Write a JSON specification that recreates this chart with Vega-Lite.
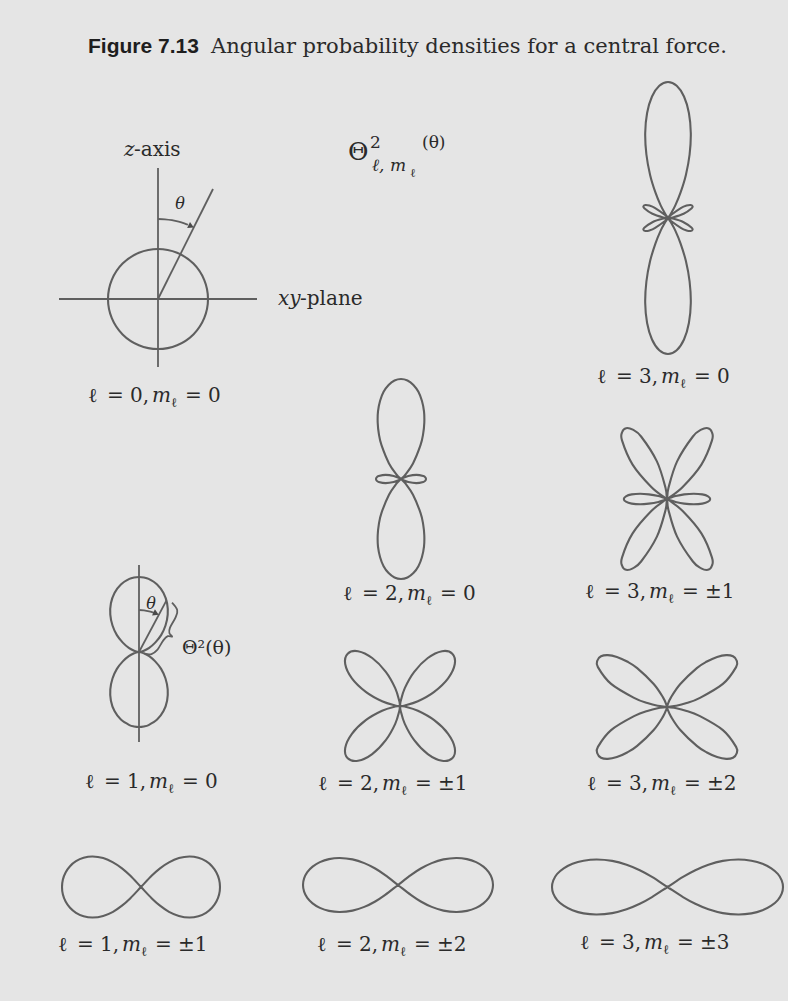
{
  "$schema": "https://vega.github.io/schema/vega-lite/v6.json",
  "width": 788,
  "height": 1001,
  "padding": 0,
  "autosize": {"type": "none"},
  "background": "#e5e5e5",
  "config": {"view": {"stroke": null}},
  "datasets": {
    "curves": [
      {"s":"l0m0","i":0,"x":158,"y":249},{"s":"l0m0","i":1,"x":177.1,"y":252.8},{"s":"l0m0","i":2,"x":193.4,"y":263.6},{"s":"l0m0","i":3,"x":204.2,"y":279.9},{"s":"l0m0","i":4,"x":208,"y":299},{"s":"l0m0","i":5,"x":204.2,"y":318.1},{"s":"l0m0","i":6,"x":193.4,"y":334.4},{"s":"l0m0","i":7,"x":177.1,"y":345.2},{"s":"l0m0","i":8,"x":158,"y":349},{"s":"l0m0","i":9,"x":138.9,"y":345.2},{"s":"l0m0","i":10,"x":122.6,"y":334.4},{"s":"l0m0","i":11,"x":111.8,"y":318.1},{"s":"l0m0","i":12,"x":108,"y":299},{"s":"l0m0","i":13,"x":111.8,"y":279.9},{"s":"l0m0","i":14,"x":122.6,"y":263.6},{"s":"l0m0","i":15,"x":138.9,"y":252.8},

      {"s":"l1m0","i":0,"x":139,"y":577},{"s":"l1m0","i":1,"x":143.9,"y":577.5},{"s":"l1m0","i":2,"x":148.6,"y":578.9},{"s":"l1m0","i":3,"x":157.1,"y":584.4},{"s":"l1m0","i":4,"x":163.5,"y":592.9},{"s":"l1m0","i":5,"x":167.1,"y":603.3},{"s":"l1m0","i":6,"x":167.7,"y":614.6},{"s":"l1m0","i":7,"x":165.5,"y":625.5},{"s":"l1m0","i":8,"x":161.1,"y":635.1},{"s":"l1m0","i":9,"x":155.2,"y":642.6},{"s":"l1m0","i":10,"x":149.2,"y":647.8},{"s":"l1m0","i":11,"x":143.9,"y":650.7},{"s":"l1m0","i":12,"x":140.3,"y":651.8},{"s":"l1m0","i":13,"x":139,"y":652},
      {"s":"l1m0","i":14,"x":140.3,"y":652.2},{"s":"l1m0","i":15,"x":143.9,"y":653.3},{"s":"l1m0","i":16,"x":149.2,"y":656.2},{"s":"l1m0","i":17,"x":155.2,"y":661.4},{"s":"l1m0","i":18,"x":161.1,"y":668.9},{"s":"l1m0","i":19,"x":165.5,"y":678.5},{"s":"l1m0","i":20,"x":167.7,"y":689.5},{"s":"l1m0","i":21,"x":167.1,"y":700.7},{"s":"l1m0","i":22,"x":163.5,"y":711.1},{"s":"l1m0","i":23,"x":157.1,"y":719.6},{"s":"l1m0","i":24,"x":148.6,"y":725.1},{"s":"l1m0","i":25,"x":143.9,"y":726.5},{"s":"l1m0","i":26,"x":139,"y":727},
      {"s":"l1m0","i":27,"x":134.1,"y":726.5},{"s":"l1m0","i":28,"x":129.4,"y":725.1},{"s":"l1m0","i":29,"x":120.9,"y":719.6},{"s":"l1m0","i":30,"x":114.5,"y":711.1},{"s":"l1m0","i":31,"x":110.9,"y":700.7},{"s":"l1m0","i":32,"x":110.3,"y":689.5},{"s":"l1m0","i":33,"x":112.5,"y":678.5},{"s":"l1m0","i":34,"x":116.9,"y":668.9},{"s":"l1m0","i":35,"x":122.8,"y":661.4},{"s":"l1m0","i":36,"x":128.8,"y":656.2},{"s":"l1m0","i":37,"x":134.1,"y":653.3},{"s":"l1m0","i":38,"x":137.7,"y":652.2},{"s":"l1m0","i":39,"x":139,"y":652},
      {"s":"l1m0","i":40,"x":137.7,"y":651.8},{"s":"l1m0","i":41,"x":134.1,"y":650.7},{"s":"l1m0","i":42,"x":128.8,"y":647.8},{"s":"l1m0","i":43,"x":122.8,"y":642.6},{"s":"l1m0","i":44,"x":116.9,"y":635.1},{"s":"l1m0","i":45,"x":112.5,"y":625.5},{"s":"l1m0","i":46,"x":110.3,"y":614.6},{"s":"l1m0","i":47,"x":110.9,"y":603.3},{"s":"l1m0","i":48,"x":114.5,"y":592.9},{"s":"l1m0","i":49,"x":120.9,"y":584.4},{"s":"l1m0","i":50,"x":129.4,"y":578.9},{"s":"l1m0","i":51,"x":134.1,"y":577.5},

      {"s":"l1m1","i":0,"x":141,"y":887},{"s":"l1m1","i":1,"x":151.6,"y":875.8},{"s":"l1m1","i":2,"x":160,"y":868.3},{"s":"l1m1","i":3,"x":169,"y":862.3},{"s":"l1m1","i":4,"x":178.9,"y":858.1},{"s":"l1m1","i":5,"x":189.4,"y":856.5},{"s":"l1m1","i":6,"x":198.4,"y":857.8},{"s":"l1m1","i":7,"x":206,"y":861.2},{"s":"l1m1","i":8,"x":212,"y":866.2},{"s":"l1m1","i":9,"x":216.4,"y":872.5},{"s":"l1m1","i":10,"x":219.1,"y":879.5},{"s":"l1m1","i":11,"x":220,"y":887},
      {"s":"l1m1","i":12,"x":219.1,"y":894.5},{"s":"l1m1","i":13,"x":216.4,"y":901.5},{"s":"l1m1","i":14,"x":212,"y":907.8},{"s":"l1m1","i":15,"x":206,"y":912.8},{"s":"l1m1","i":16,"x":198.4,"y":916.2},{"s":"l1m1","i":17,"x":189.4,"y":917.5},{"s":"l1m1","i":18,"x":178.9,"y":915.9},{"s":"l1m1","i":19,"x":169,"y":911.8},{"s":"l1m1","i":20,"x":160,"y":905.7},{"s":"l1m1","i":21,"x":151.6,"y":898.2},{"s":"l1m1","i":22,"x":141,"y":887},
      {"s":"l1m1","i":23,"x":130.4,"y":875.8},{"s":"l1m1","i":24,"x":122,"y":868.3},{"s":"l1m1","i":25,"x":113,"y":862.3},{"s":"l1m1","i":26,"x":103.2,"y":858.1},{"s":"l1m1","i":27,"x":92.6,"y":856.5},{"s":"l1m1","i":28,"x":83.6,"y":857.8},{"s":"l1m1","i":29,"x":76,"y":861.2},{"s":"l1m1","i":30,"x":70,"y":866.2},{"s":"l1m1","i":31,"x":65.6,"y":872.5},{"s":"l1m1","i":32,"x":62.9,"y":879.5},{"s":"l1m1","i":33,"x":62,"y":887},
      {"s":"l1m1","i":34,"x":62.9,"y":894.5},{"s":"l1m1","i":35,"x":65.6,"y":901.5},{"s":"l1m1","i":36,"x":70,"y":907.8},{"s":"l1m1","i":37,"x":76,"y":912.8},{"s":"l1m1","i":38,"x":83.6,"y":916.2},{"s":"l1m1","i":39,"x":92.6,"y":917.5},{"s":"l1m1","i":40,"x":103.2,"y":915.9},{"s":"l1m1","i":41,"x":113,"y":911.8},{"s":"l1m1","i":42,"x":122,"y":905.7},{"s":"l1m1","i":43,"x":130.4,"y":898.2},

      {"s":"l2m0","i":0,"x":401,"y":379},{"s":"l2m0","i":1,"x":407.5,"y":380.5},{"s":"l2m0","i":2,"x":413.4,"y":384.9},{"s":"l2m0","i":3,"x":418.4,"y":391.8},{"s":"l2m0","i":4,"x":421.9,"y":400.8},{"s":"l2m0","i":5,"x":424,"y":411.4},{"s":"l2m0","i":6,"x":424.3,"y":422.7},{"s":"l2m0","i":7,"x":423.1,"y":434.2},{"s":"l2m0","i":8,"x":420.5,"y":445.2},{"s":"l2m0","i":9,"x":413,"y":463.4},{"s":"l2m0","i":10,"x":405.4,"y":474.6},{"s":"l2m0","i":11,"x":401.3,"y":478.8},{"s":"l2m0","i":12,"x":402.4,"y":478.2},{"s":"l2m0","i":13,"x":408.3,"y":476},{"s":"l2m0","i":14,"x":416.4,"y":474.9},{"s":"l2m0","i":15,"x":423.3,"y":476.1},{"s":"l2m0","i":16,"x":425.3,"y":477.4},{"s":"l2m0","i":17,"x":426,"y":479},
      {"s":"l2m0","i":18,"x":425.3,"y":480.6},{"s":"l2m0","i":19,"x":423.3,"y":481.9},{"s":"l2m0","i":20,"x":416.4,"y":483.1},{"s":"l2m0","i":21,"x":408.3,"y":482},{"s":"l2m0","i":22,"x":402.4,"y":479.8},{"s":"l2m0","i":23,"x":401.3,"y":479.2},{"s":"l2m0","i":24,"x":405.4,"y":483.4},{"s":"l2m0","i":25,"x":413,"y":494.7},{"s":"l2m0","i":26,"x":420.5,"y":512.8},{"s":"l2m0","i":27,"x":423.1,"y":523.8},{"s":"l2m0","i":28,"x":424.3,"y":535.3},{"s":"l2m0","i":29,"x":424,"y":546.6},{"s":"l2m0","i":30,"x":421.9,"y":557.2},{"s":"l2m0","i":31,"x":418.4,"y":566.2},{"s":"l2m0","i":32,"x":413.4,"y":573.1},{"s":"l2m0","i":33,"x":407.5,"y":577.5},{"s":"l2m0","i":34,"x":401,"y":579},
      {"s":"l2m0","i":35,"x":394.5,"y":577.5},{"s":"l2m0","i":36,"x":388.6,"y":573.1},{"s":"l2m0","i":37,"x":383.6,"y":566.2},{"s":"l2m0","i":38,"x":380.1,"y":557.2},{"s":"l2m0","i":39,"x":378,"y":546.6},{"s":"l2m0","i":40,"x":377.7,"y":535.3},{"s":"l2m0","i":41,"x":378.9,"y":523.8},{"s":"l2m0","i":42,"x":381.5,"y":512.8},{"s":"l2m0","i":43,"x":389,"y":494.7},{"s":"l2m0","i":44,"x":396.6,"y":483.4},{"s":"l2m0","i":45,"x":400.7,"y":479.2},{"s":"l2m0","i":46,"x":399.6,"y":479.8},{"s":"l2m0","i":47,"x":393.7,"y":482},{"s":"l2m0","i":48,"x":385.6,"y":483.1},{"s":"l2m0","i":49,"x":378.7,"y":481.9},{"s":"l2m0","i":50,"x":376.7,"y":480.6},{"s":"l2m0","i":51,"x":376,"y":479},
      {"s":"l2m0","i":52,"x":376.7,"y":477.4},{"s":"l2m0","i":53,"x":378.7,"y":476.1},{"s":"l2m0","i":54,"x":385.6,"y":474.9},{"s":"l2m0","i":55,"x":393.7,"y":476},{"s":"l2m0","i":56,"x":399.6,"y":478.2},{"s":"l2m0","i":57,"x":400.7,"y":478.8},{"s":"l2m0","i":58,"x":396.6,"y":474.6},{"s":"l2m0","i":59,"x":389,"y":463.4},{"s":"l2m0","i":60,"x":381.5,"y":445.2},{"s":"l2m0","i":61,"x":378.9,"y":434.2},{"s":"l2m0","i":62,"x":377.7,"y":422.7},{"s":"l2m0","i":63,"x":378,"y":411.4},{"s":"l2m0","i":64,"x":380.1,"y":400.8},{"s":"l2m0","i":65,"x":383.6,"y":391.8},{"s":"l2m0","i":66,"x":388.6,"y":384.9},{"s":"l2m0","i":67,"x":394.5,"y":380.5},

      {"s":"l2m1","i":0,"x":400,"y":706},{"s":"l2m1","i":1,"x":400.7,"y":701.1},{"s":"l2m1","i":2,"x":404.8,"y":688.1},{"s":"l2m1","i":3,"x":414.2,"y":671.8},{"s":"l2m1","i":4,"x":427.8,"y":658},{"s":"l2m1","i":5,"x":442,"y":651.2},{"s":"l2m1","i":6,"x":452.3,"y":653.7},{"s":"l2m1","i":7,"x":454.8,"y":664},{"s":"l2m1","i":8,"x":448.1,"y":678.3},{"s":"l2m1","i":9,"x":434.2,"y":691.8},{"s":"l2m1","i":10,"x":417.9,"y":701.2},{"s":"l2m1","i":11,"x":404.9,"y":705.4},{"s":"l2m1","i":12,"x":400,"y":706},
      {"s":"l2m1","i":13,"x":404.9,"y":706.6},{"s":"l2m1","i":14,"x":417.9,"y":710.8},{"s":"l2m1","i":15,"x":434.2,"y":720.2},{"s":"l2m1","i":16,"x":448.1,"y":733.8},{"s":"l2m1","i":17,"x":454.8,"y":748},{"s":"l2m1","i":18,"x":452.3,"y":758.3},{"s":"l2m1","i":19,"x":442,"y":760.8},{"s":"l2m1","i":20,"x":427.8,"y":754.1},{"s":"l2m1","i":21,"x":414.2,"y":740.2},{"s":"l2m1","i":22,"x":404.8,"y":723.9},{"s":"l2m1","i":23,"x":400.7,"y":710.9},{"s":"l2m1","i":24,"x":400,"y":706},
      {"s":"l2m1","i":25,"x":399.3,"y":710.9},{"s":"l2m1","i":26,"x":395.2,"y":723.9},{"s":"l2m1","i":27,"x":385.8,"y":740.2},{"s":"l2m1","i":28,"x":372.2,"y":754.1},{"s":"l2m1","i":29,"x":358,"y":760.8},{"s":"l2m1","i":30,"x":347.7,"y":758.3},{"s":"l2m1","i":31,"x":345.2,"y":748},{"s":"l2m1","i":32,"x":351.9,"y":733.8},{"s":"l2m1","i":33,"x":365.8,"y":720.2},{"s":"l2m1","i":34,"x":382.1,"y":710.8},{"s":"l2m1","i":35,"x":395.1,"y":706.6},{"s":"l2m1","i":36,"x":400,"y":706},
      {"s":"l2m1","i":37,"x":395.1,"y":705.4},{"s":"l2m1","i":38,"x":382.1,"y":701.2},{"s":"l2m1","i":39,"x":365.8,"y":691.8},{"s":"l2m1","i":40,"x":351.9,"y":678.3},{"s":"l2m1","i":41,"x":345.2,"y":664},{"s":"l2m1","i":42,"x":347.7,"y":653.7},{"s":"l2m1","i":43,"x":358,"y":651.2},{"s":"l2m1","i":44,"x":372.2,"y":658},{"s":"l2m1","i":45,"x":385.8,"y":671.8},{"s":"l2m1","i":46,"x":395.2,"y":688.1},{"s":"l2m1","i":47,"x":399.3,"y":701.1},

      {"s":"l2m2","i":0,"x":398,"y":885},{"s":"l2m2","i":1,"x":410.8,"y":875.1},{"s":"l2m2","i":2,"x":420.8,"y":868.5},{"s":"l2m2","i":3,"x":431.7,"y":863.1},{"s":"l2m2","i":4,"x":443.5,"y":859.4},{"s":"l2m2","i":5,"x":456.2,"y":858},{"s":"l2m2","i":6,"x":467,"y":859.1},{"s":"l2m2","i":7,"x":476.1,"y":862.1},{"s":"l2m2","i":8,"x":483.4,"y":866.6},{"s":"l2m2","i":9,"x":488.7,"y":872.1},{"s":"l2m2","i":10,"x":491.9,"y":878.4},{"s":"l2m2","i":11,"x":493,"y":885},
      {"s":"l2m2","i":12,"x":491.9,"y":891.6},{"s":"l2m2","i":13,"x":488.7,"y":897.9},{"s":"l2m2","i":14,"x":483.4,"y":903.4},{"s":"l2m2","i":15,"x":476.1,"y":907.9},{"s":"l2m2","i":16,"x":467,"y":910.9},{"s":"l2m2","i":17,"x":456.2,"y":912},{"s":"l2m2","i":18,"x":443.5,"y":910.6},{"s":"l2m2","i":19,"x":431.7,"y":906.9},{"s":"l2m2","i":20,"x":420.8,"y":901.5},{"s":"l2m2","i":21,"x":410.8,"y":894.9},{"s":"l2m2","i":22,"x":398,"y":885},
      {"s":"l2m2","i":23,"x":385.2,"y":875.1},{"s":"l2m2","i":24,"x":375.2,"y":868.5},{"s":"l2m2","i":25,"x":364.3,"y":863.1},{"s":"l2m2","i":26,"x":352.5,"y":859.4},{"s":"l2m2","i":27,"x":339.8,"y":858},{"s":"l2m2","i":28,"x":329,"y":859.1},{"s":"l2m2","i":29,"x":319.9,"y":862.1},{"s":"l2m2","i":30,"x":312.6,"y":866.6},{"s":"l2m2","i":31,"x":307.3,"y":872.1},{"s":"l2m2","i":32,"x":304.1,"y":878.4},{"s":"l2m2","i":33,"x":303,"y":885},
      {"s":"l2m2","i":34,"x":304.1,"y":891.6},{"s":"l2m2","i":35,"x":307.3,"y":897.9},{"s":"l2m2","i":36,"x":312.6,"y":903.4},{"s":"l2m2","i":37,"x":319.9,"y":907.9},{"s":"l2m2","i":38,"x":329,"y":910.9},{"s":"l2m2","i":39,"x":339.8,"y":912},{"s":"l2m2","i":40,"x":352.5,"y":910.6},{"s":"l2m2","i":41,"x":364.3,"y":906.9},{"s":"l2m2","i":42,"x":375.2,"y":901.5},{"s":"l2m2","i":43,"x":385.2,"y":894.9},

      {"s":"l3m0","i":0,"x":668,"y":82},{"s":"l3m0","i":1,"x":676.7,"y":85.8},{"s":"l3m0","i":2,"x":684,"y":96.5},{"s":"l3m0","i":3,"x":688.9,"y":113},{"s":"l3m0","i":4,"x":690.8,"y":133.1},{"s":"l3m0","i":5,"x":689.6,"y":154.5},{"s":"l3m0","i":6,"x":685.9,"y":174.9},{"s":"l3m0","i":7,"x":680.6,"y":192.4},{"s":"l3m0","i":8,"x":675.2,"y":205.6},{"s":"l3m0","i":9,"x":670.7,"y":213.9},{"s":"l3m0","i":10,"x":668.3,"y":217.6},{"s":"l3m0","i":11,"x":671,"y":215},{"s":"l3m0","i":12,"x":681.2,"y":207.9},{"s":"l3m0","i":13,"x":686.5,"y":205.6},{"s":"l3m0","i":14,"x":690.5,"y":205},{"s":"l3m0","i":15,"x":692.4,"y":206},{"s":"l3m0","i":16,"x":691.7,"y":208.2},{"s":"l3m0","i":17,"x":683.6,"y":213.8},{"s":"l3m0","i":18,"x":672.9,"y":217.4},{"s":"l3m0","i":19,"x":668,"y":218},
      {"s":"l3m0","i":20,"x":672.9,"y":218.6},{"s":"l3m0","i":21,"x":683.6,"y":222.2},{"s":"l3m0","i":22,"x":691.7,"y":227.8},{"s":"l3m0","i":23,"x":692.4,"y":230},{"s":"l3m0","i":24,"x":690.5,"y":231},{"s":"l3m0","i":25,"x":686.5,"y":230.4},{"s":"l3m0","i":26,"x":681.2,"y":228.1},{"s":"l3m0","i":27,"x":671,"y":221},{"s":"l3m0","i":28,"x":668.3,"y":218.4},{"s":"l3m0","i":29,"x":670.7,"y":222.1},{"s":"l3m0","i":30,"x":675.2,"y":230.4},{"s":"l3m0","i":31,"x":680.6,"y":243.6},{"s":"l3m0","i":32,"x":685.9,"y":261.1},{"s":"l3m0","i":33,"x":689.6,"y":281.5},{"s":"l3m0","i":34,"x":690.8,"y":303},{"s":"l3m0","i":35,"x":688.9,"y":323},{"s":"l3m0","i":36,"x":684,"y":339.5},{"s":"l3m0","i":37,"x":676.7,"y":350.3},{"s":"l3m0","i":38,"x":668,"y":354},
      {"s":"l3m0","i":39,"x":659.3,"y":350.3},{"s":"l3m0","i":40,"x":652,"y":339.5},{"s":"l3m0","i":41,"x":647.1,"y":323},{"s":"l3m0","i":42,"x":645.2,"y":303},{"s":"l3m0","i":43,"x":646.4,"y":281.5},{"s":"l3m0","i":44,"x":650.1,"y":261.1},{"s":"l3m0","i":45,"x":655.4,"y":243.6},{"s":"l3m0","i":46,"x":660.8,"y":230.4},{"s":"l3m0","i":47,"x":665.3,"y":222.1},{"s":"l3m0","i":48,"x":667.7,"y":218.4},{"s":"l3m0","i":49,"x":665,"y":221},{"s":"l3m0","i":50,"x":654.8,"y":228.1},{"s":"l3m0","i":51,"x":649.5,"y":230.4},{"s":"l3m0","i":52,"x":645.5,"y":231},{"s":"l3m0","i":53,"x":643.6,"y":230},{"s":"l3m0","i":54,"x":644.3,"y":227.8},{"s":"l3m0","i":55,"x":652.4,"y":222.2},{"s":"l3m0","i":56,"x":663.1,"y":218.6},{"s":"l3m0","i":57,"x":668,"y":218},
      {"s":"l3m0","i":58,"x":663.1,"y":217.4},{"s":"l3m0","i":59,"x":652.4,"y":213.8},{"s":"l3m0","i":60,"x":644.3,"y":208.2},{"s":"l3m0","i":61,"x":643.6,"y":206},{"s":"l3m0","i":62,"x":645.5,"y":205},{"s":"l3m0","i":63,"x":649.5,"y":205.6},{"s":"l3m0","i":64,"x":654.8,"y":207.9},{"s":"l3m0","i":65,"x":665,"y":215},{"s":"l3m0","i":66,"x":667.7,"y":217.6},{"s":"l3m0","i":67,"x":665.3,"y":213.9},{"s":"l3m0","i":68,"x":660.8,"y":205.6},{"s":"l3m0","i":69,"x":655.4,"y":192.4},{"s":"l3m0","i":70,"x":650.1,"y":174.9},{"s":"l3m0","i":71,"x":646.4,"y":154.5},{"s":"l3m0","i":72,"x":645.2,"y":133.1},{"s":"l3m0","i":73,"x":647.1,"y":113},{"s":"l3m0","i":74,"x":652,"y":96.5},{"s":"l3m0","i":75,"x":659.3,"y":85.8},

      {"s":"l3m1","i":0,"x":667,"y":499},{"s":"l3m1","i":1,"x":668.5,"y":487.8},{"s":"l3m1","i":2,"x":677.1,"y":461.4},{"s":"l3m1","i":3,"x":692.9,"y":436.5},{"s":"l3m1","i":4,"x":701.2,"y":429.7},{"s":"l3m1","i":5,"x":707.9,"y":428.2},{"s":"l3m1","i":6,"x":711.8,"y":432},{"s":"l3m1","i":7,"x":712,"y":440.4},{"s":"l3m1","i":8,"x":701.4,"y":464.6},{"s":"l3m1","i":9,"x":682.7,"y":487},{"s":"l3m1","i":10,"x":668.8,"y":498},{"s":"l3m1","i":11,"x":669.5,"y":498},{"s":"l3m1","i":12,"x":675.6,"y":496.1},{"s":"l3m1","i":13,"x":684.2,"y":494.4},{"s":"l3m1","i":14,"x":693.8,"y":493.7},{"s":"l3m1","i":15,"x":702.3,"y":494.4},{"s":"l3m1","i":16,"x":708.1,"y":496.3},{"s":"l3m1","i":17,"x":710.2,"y":499},
      {"s":"l3m1","i":18,"x":708.1,"y":501.7},{"s":"l3m1","i":19,"x":702.3,"y":503.6},{"s":"l3m1","i":20,"x":693.8,"y":504.3},{"s":"l3m1","i":21,"x":684.2,"y":503.6},{"s":"l3m1","i":22,"x":675.6,"y":501.9},{"s":"l3m1","i":23,"x":669.5,"y":500},{"s":"l3m1","i":24,"x":668.8,"y":500},{"s":"l3m1","i":25,"x":682.7,"y":511},{"s":"l3m1","i":26,"x":701.4,"y":533.4},{"s":"l3m1","i":27,"x":712,"y":557.6},{"s":"l3m1","i":28,"x":711.8,"y":566},{"s":"l3m1","i":29,"x":707.9,"y":569.8},{"s":"l3m1","i":30,"x":701.2,"y":568.3},{"s":"l3m1","i":31,"x":692.9,"y":561.5},{"s":"l3m1","i":32,"x":677.1,"y":536.6},{"s":"l3m1","i":33,"x":668.5,"y":510.2},{"s":"l3m1","i":34,"x":667,"y":499},
      {"s":"l3m1","i":35,"x":665.5,"y":510.2},{"s":"l3m1","i":36,"x":656.9,"y":536.6},{"s":"l3m1","i":37,"x":641.1,"y":561.5},{"s":"l3m1","i":38,"x":632.8,"y":568.3},{"s":"l3m1","i":39,"x":626.1,"y":569.8},{"s":"l3m1","i":40,"x":622.2,"y":566},{"s":"l3m1","i":41,"x":622,"y":557.6},{"s":"l3m1","i":42,"x":632.6,"y":533.4},{"s":"l3m1","i":43,"x":651.3,"y":511},{"s":"l3m1","i":44,"x":665.2,"y":500},{"s":"l3m1","i":45,"x":664.5,"y":500},{"s":"l3m1","i":46,"x":658.4,"y":501.9},{"s":"l3m1","i":47,"x":648.8,"y":503.6},{"s":"l3m1","i":48,"x":640.2,"y":504.3},{"s":"l3m1","i":49,"x":631.7,"y":503.6},{"s":"l3m1","i":50,"x":625.9,"y":501.7},{"s":"l3m1","i":51,"x":623.8,"y":499},
      {"s":"l3m1","i":52,"x":625.9,"y":496.3},{"s":"l3m1","i":53,"x":631.7,"y":494.4},{"s":"l3m1","i":54,"x":640.2,"y":493.7},{"s":"l3m1","i":55,"x":648.8,"y":494.4},{"s":"l3m1","i":56,"x":658.4,"y":496.1},{"s":"l3m1","i":57,"x":664.5,"y":498},{"s":"l3m1","i":58,"x":665.2,"y":498},{"s":"l3m1","i":59,"x":651.3,"y":487},{"s":"l3m1","i":60,"x":632.6,"y":464.6},{"s":"l3m1","i":61,"x":622,"y":440.4},{"s":"l3m1","i":62,"x":622.2,"y":432},{"s":"l3m1","i":63,"x":626.1,"y":428.2},{"s":"l3m1","i":64,"x":632.8,"y":429.7},{"s":"l3m1","i":65,"x":641.1,"y":436.5},{"s":"l3m1","i":66,"x":656.9,"y":461.4},{"s":"l3m1","i":67,"x":665.5,"y":487.8},

      {"s":"l3m2","i":0,"x":667,"y":707},{"s":"l3m2","i":1,"x":667.6,"y":704.7},{"s":"l3m2","i":2,"x":671,"y":697.4},{"s":"l3m2","i":3,"x":680.3,"y":684},{"s":"l3m2","i":4,"x":696.8,"y":668.1},{"s":"l3m2","i":5,"x":706.9,"y":661.5},{"s":"l3m2","i":6,"x":717.1,"y":656.9},{"s":"l3m2","i":7,"x":726.2,"y":655.1},{"s":"l3m2","i":8,"x":733,"y":656.3},{"s":"l3m2","i":9,"x":736.6,"y":660.5},{"s":"l3m2","i":10,"x":736.1,"y":667.1},{"s":"l3m2","i":11,"x":722.9,"y":683.9},{"s":"l3m2","i":12,"x":698.9,"y":698.4},{"s":"l3m2","i":13,"x":686.6,"y":703.1},{"s":"l3m2","i":14,"x":676.3,"y":705.8},{"s":"l3m2","i":15,"x":667,"y":707},
      {"s":"l3m2","i":16,"x":676.3,"y":708.2},{"s":"l3m2","i":17,"x":686.6,"y":710.9},{"s":"l3m2","i":18,"x":698.9,"y":715.6},{"s":"l3m2","i":19,"x":722.9,"y":730.1},{"s":"l3m2","i":20,"x":736.1,"y":746.9},{"s":"l3m2","i":21,"x":736.6,"y":753.5},{"s":"l3m2","i":22,"x":733,"y":757.7},{"s":"l3m2","i":23,"x":726.2,"y":758.9},{"s":"l3m2","i":24,"x":717.1,"y":757.1},{"s":"l3m2","i":25,"x":706.9,"y":752.5},{"s":"l3m2","i":26,"x":696.8,"y":745.9},{"s":"l3m2","i":27,"x":680.3,"y":730},{"s":"l3m2","i":28,"x":671,"y":716.6},{"s":"l3m2","i":29,"x":667.6,"y":709.3},{"s":"l3m2","i":30,"x":667,"y":707},
      {"s":"l3m2","i":31,"x":666.4,"y":709.3},{"s":"l3m2","i":32,"x":663,"y":716.6},{"s":"l3m2","i":33,"x":653.7,"y":730},{"s":"l3m2","i":34,"x":637.2,"y":745.9},{"s":"l3m2","i":35,"x":627.1,"y":752.5},{"s":"l3m2","i":36,"x":616.9,"y":757.1},{"s":"l3m2","i":37,"x":607.8,"y":758.9},{"s":"l3m2","i":38,"x":601,"y":757.7},{"s":"l3m2","i":39,"x":597.4,"y":753.5},{"s":"l3m2","i":40,"x":597.9,"y":746.9},{"s":"l3m2","i":41,"x":611.1,"y":730.1},{"s":"l3m2","i":42,"x":635.1,"y":715.6},{"s":"l3m2","i":43,"x":647.4,"y":710.9},{"s":"l3m2","i":44,"x":657.7,"y":708.2},{"s":"l3m2","i":45,"x":667,"y":707},
      {"s":"l3m2","i":46,"x":657.7,"y":705.8},{"s":"l3m2","i":47,"x":647.4,"y":703.1},{"s":"l3m2","i":48,"x":635.1,"y":698.4},{"s":"l3m2","i":49,"x":611.1,"y":683.9},{"s":"l3m2","i":50,"x":597.9,"y":667.1},{"s":"l3m2","i":51,"x":597.4,"y":660.5},{"s":"l3m2","i":52,"x":601,"y":656.3},{"s":"l3m2","i":53,"x":607.8,"y":655.1},{"s":"l3m2","i":54,"x":616.9,"y":656.9},{"s":"l3m2","i":55,"x":627.1,"y":661.5},{"s":"l3m2","i":56,"x":637.2,"y":668.1},{"s":"l3m2","i":57,"x":653.7,"y":684},{"s":"l3m2","i":58,"x":663,"y":697.4},{"s":"l3m2","i":59,"x":666.4,"y":704.7},

      {"s":"l3m3","i":0,"x":667.5,"y":887},{"s":"l3m3","i":1,"x":683,"y":876.9},{"s":"l3m3","i":2,"x":695.3,"y":870.2},{"s":"l3m3","i":3,"x":708.4,"y":864.7},{"s":"l3m3","i":4,"x":722.8,"y":860.9},{"s":"l3m3","i":5,"x":738.2,"y":859.5},{"s":"l3m3","i":6,"x":751.4,"y":860.7},{"s":"l3m3","i":7,"x":762.5,"y":863.7},{"s":"l3m3","i":8,"x":771.3,"y":868.3},{"s":"l3m3","i":9,"x":777.8,"y":873.9},{"s":"l3m3","i":10,"x":781.7,"y":880.3},{"s":"l3m3","i":11,"x":783,"y":887},
      {"s":"l3m3","i":12,"x":781.7,"y":893.7},{"s":"l3m3","i":13,"x":777.8,"y":900.1},{"s":"l3m3","i":14,"x":771.3,"y":905.7},{"s":"l3m3","i":15,"x":762.5,"y":910.3},{"s":"l3m3","i":16,"x":751.4,"y":913.4},{"s":"l3m3","i":17,"x":738.2,"y":914.5},{"s":"l3m3","i":18,"x":722.8,"y":913.1},{"s":"l3m3","i":19,"x":708.4,"y":909.3},{"s":"l3m3","i":20,"x":695.3,"y":903.8},{"s":"l3m3","i":21,"x":683,"y":897.1},{"s":"l3m3","i":22,"x":667.5,"y":887},
      {"s":"l3m3","i":23,"x":652,"y":876.9},{"s":"l3m3","i":24,"x":639.8,"y":870.2},{"s":"l3m3","i":25,"x":626.6,"y":864.7},{"s":"l3m3","i":26,"x":612.2,"y":860.9},{"s":"l3m3","i":27,"x":596.8,"y":859.5},{"s":"l3m3","i":28,"x":583.6,"y":860.7},{"s":"l3m3","i":29,"x":572.5,"y":863.7},{"s":"l3m3","i":30,"x":563.7,"y":868.3},{"s":"l3m3","i":31,"x":557.2,"y":873.9},{"s":"l3m3","i":32,"x":553.3,"y":880.3},{"s":"l3m3","i":33,"x":552,"y":887},
      {"s":"l3m3","i":34,"x":553.3,"y":893.7},{"s":"l3m3","i":35,"x":557.2,"y":900.1},{"s":"l3m3","i":36,"x":563.7,"y":905.7},{"s":"l3m3","i":37,"x":572.5,"y":910.3},{"s":"l3m3","i":38,"x":583.6,"y":913.4},{"s":"l3m3","i":39,"x":596.8,"y":914.5},{"s":"l3m3","i":40,"x":612.2,"y":913.1},{"s":"l3m3","i":41,"x":626.6,"y":909.3},{"s":"l3m3","i":42,"x":639.8,"y":903.8},{"s":"l3m3","i":43,"x":652,"y":897.1}
    ],
    "strokes": [
      {"p":"zaxis0","i":0,"x":158,"y":168},{"p":"zaxis0","i":1,"x":158,"y":367},
      {"p":"plane0","i":0,"x":59,"y":299},{"p":"plane0","i":1,"x":257,"y":299},
      {"p":"ray0","i":0,"x":158,"y":299},{"p":"ray0","i":1,"x":213,"y":189},
      {"p":"arc0","i":0,"x":158,"y":219},{"p":"arc0","i":1,"x":165,"y":219.3},{"p":"arc0","i":2,"x":171.9,"y":220.2},{"p":"arc0","i":3,"x":178.7,"y":221.7},{"p":"arc0","i":4,"x":185.4,"y":223.8},{"p":"arc0","i":5,"x":188,"y":224.8},
      {"p":"zaxis1","i":0,"x":139,"y":565},{"p":"zaxis1","i":1,"x":139,"y":742},
      {"p":"ray1","i":0,"x":139,"y":652},{"p":"ray1","i":1,"x":166.5,"y":600.4},
      {"p":"arc1","i":0,"x":139,"y":610},{"p":"arc1","i":1,"x":144.1,"y":610.3},{"p":"arc1","i":2,"x":149.2,"y":611.3},{"p":"arc1","i":3,"x":154.1,"y":612.8},
      {"p":"brace","i":0,"x":172,"y":602.7},{"p":"brace","i":1,"x":177.2,"y":610},{"p":"brace","i":2,"x":175.7,"y":617.1},{"p":"brace","i":3,"x":170,"y":627.7},{"p":"brace","i":4,"x":169.4,"y":633.1},{"p":"brace","i":5,"x":172.2,"y":636.5},{"p":"brace","i":6,"x":167.8,"y":636.2},{"p":"brace","i":7,"x":163.5,"y":640.1},{"p":"brace","i":8,"x":157,"y":650.2},{"p":"brace","i":9,"x":151.5,"y":654.1},{"p":"brace","i":10,"x":144.8,"y":653.9}
    ],
    "heads": [
      {"x":191.2,"y":226.2},{"x":156.1,"y":613.6}
    ],
    "figno": [{"t":"Figure 7.13","x":88,"y":53}],
    "caption": [{"t":"Angular probability densities for a central force.","x":211,"y":53}],
    "roman": [
      {"t":"ℓ","x":88,"y":402},{"t":"= 0,","x":107,"y":402},{"t":"= 0","x":185,"y":402},
      {"t":"ℓ","x":597,"y":383},{"t":"= 3,","x":616,"y":383},{"t":"= 0","x":694,"y":383},
      {"t":"ℓ","x":343,"y":600},{"t":"= 2,","x":362,"y":600},{"t":"= 0","x":440,"y":600},
      {"t":"ℓ","x":585,"y":598},{"t":"= 3,","x":604,"y":598},{"t":"= ±1","x":682,"y":598},
      {"t":"ℓ","x":85,"y":788},{"t":"= 1,","x":104,"y":788},{"t":"= 0","x":182,"y":788},
      {"t":"ℓ","x":318,"y":790},{"t":"= 2,","x":337,"y":790},{"t":"= ±1","x":415,"y":790},
      {"t":"ℓ","x":587,"y":790},{"t":"= 3,","x":606,"y":790},{"t":"= ±2","x":684,"y":790},
      {"t":"ℓ","x":58,"y":951},{"t":"= 1,","x":77,"y":951},{"t":"= ±1","x":155,"y":951},
      {"t":"ℓ","x":317,"y":951},{"t":"= 2,","x":336,"y":951},{"t":"= ±2","x":414,"y":951},
      {"t":"ℓ","x":580,"y":949},{"t":"= 3,","x":599,"y":949},{"t":"= ±3","x":677,"y":949},
      {"t":"-axis","x":134,"y":156},{"t":"-plane","x":300,"y":305}
    ],
    "italic": [
      {"t":"m","x":152,"y":402},{"t":"m","x":661,"y":383},{"t":"m","x":407,"y":600},{"t":"m","x":649,"y":598},{"t":"m","x":149,"y":788},{"t":"m","x":382,"y":790},{"t":"m","x":651,"y":790},{"t":"m","x":122,"y":951},{"t":"m","x":381,"y":951},{"t":"m","x":644,"y":949},
      {"t":"z","x":124,"y":156},{"t":"xy","x":278,"y":305}
    ],
    "subs": [
      {"t":"ℓ","x":171,"y":407},{"t":"ℓ","x":680,"y":388},{"t":"ℓ","x":426,"y":605},{"t":"ℓ","x":668,"y":603},{"t":"ℓ","x":168,"y":793},{"t":"ℓ","x":401,"y":795},{"t":"ℓ","x":670,"y":795},{"t":"ℓ","x":141,"y":956},{"t":"ℓ","x":400,"y":956},{"t":"ℓ","x":663,"y":954}
    ],
    "angles": [{"t":"θ","x":180,"y":209},{"t":"θ","x":151,"y":609}],
    "bigTheta": [{"t":"Θ","x":348,"y":160}],
    "supParts": [{"t":"2","x":370,"y":148},{"t":"(θ)","x":422,"y":148}],
    "subParts": [{"t":"ℓ, m","x":372,"y":171}],
    "subSub": [{"t":"ℓ","x":410,"y":177}],
    "braceLabel": [{"t":"Θ²(θ)","x":182,"y":654}]
  },
  "encoding": {
    "x": {"field": "x", "type": "quantitative", "scale": {"domain": [0, 788], "nice": false, "zero": false}, "axis": null},
    "y": {"field": "y", "type": "quantitative", "scale": {"domain": [0, 1001], "reverse": true, "nice": false, "zero": false}, "axis": null}
  },
  "layer": [
    {
      "data": {"name": "curves"},
      "mark": {"type": "line", "interpolate": "cardinal-closed", "stroke": "#5f5f5f", "strokeWidth": 2.1},
      "encoding": {"detail": {"field": "s"}, "order": {"field": "i", "type": "quantitative"}}
    },
    {
      "data": {"name": "strokes"},
      "mark": {"type": "line", "interpolate": "cardinal", "stroke": "#5f5f5f", "strokeWidth": 1.8},
      "encoding": {"detail": {"field": "p"}, "order": {"field": "i", "type": "quantitative"}}
    },
    {
      "data": {"name": "heads"},
      "mark": {"type": "point", "shape": "triangle-right", "angle": 25, "size": 45, "filled": true, "color": "#4a4a4a", "opacity": 1}
    },
    {
      "data": {"name": "figno"},
      "mark": {"type": "text", "align": "left", "baseline": "alphabetic", "font": "Liberation Sans", "fontWeight": "bold", "fontSize": 21, "color": "#1e1e1e"},
      "encoding": {"text": {"field": "t"}}
    },
    {
      "data": {"name": "caption"},
      "mark": {"type": "text", "align": "left", "baseline": "alphabetic", "font": "DejaVu Serif", "fontSize": 21, "color": "#2a2a2a"},
      "encoding": {"text": {"field": "t"}}
    },
    {
      "data": {"name": "roman"},
      "mark": {"type": "text", "align": "left", "baseline": "alphabetic", "font": "DejaVu Serif", "fontSize": 20, "color": "#2a2a2a"},
      "encoding": {"text": {"field": "t"}}
    },
    {
      "data": {"name": "italic"},
      "mark": {"type": "text", "align": "left", "baseline": "alphabetic", "font": "DejaVu Serif", "fontStyle": "italic", "fontSize": 20, "color": "#2a2a2a"},
      "encoding": {"text": {"field": "t"}}
    },
    {
      "data": {"name": "subs"},
      "mark": {"type": "text", "align": "left", "baseline": "alphabetic", "font": "DejaVu Serif", "fontSize": 13, "color": "#2a2a2a"},
      "encoding": {"text": {"field": "t"}}
    },
    {
      "data": {"name": "angles"},
      "mark": {"type": "text", "align": "center", "baseline": "alphabetic", "font": "DejaVu Serif", "fontStyle": "italic", "fontSize": 16, "color": "#2a2a2a"},
      "encoding": {"text": {"field": "t"}}
    },
    {
      "data": {"name": "bigTheta"},
      "mark": {"type": "text", "align": "left", "baseline": "alphabetic", "font": "DejaVu Serif", "fontSize": 25, "color": "#2a2a2a"},
      "encoding": {"text": {"field": "t"}}
    },
    {
      "data": {"name": "supParts"},
      "mark": {"type": "text", "align": "left", "baseline": "alphabetic", "font": "DejaVu Serif", "fontSize": 17, "color": "#2a2a2a"},
      "encoding": {"text": {"field": "t"}}
    },
    {
      "data": {"name": "subParts"},
      "mark": {"type": "text", "align": "left", "baseline": "alphabetic", "font": "DejaVu Serif", "fontStyle": "italic", "fontSize": 17, "color": "#2a2a2a"},
      "encoding": {"text": {"field": "t"}}
    },
    {
      "data": {"name": "subSub"},
      "mark": {"type": "text", "align": "left", "baseline": "alphabetic", "font": "DejaVu Serif", "fontSize": 12, "color": "#2a2a2a"},
      "encoding": {"text": {"field": "t"}}
    },
    {
      "data": {"name": "braceLabel"},
      "mark": {"type": "text", "align": "left", "baseline": "alphabetic", "font": "DejaVu Serif", "fontSize": 19, "color": "#2a2a2a"},
      "encoding": {"text": {"field": "t"}}
    }
  ]
}
